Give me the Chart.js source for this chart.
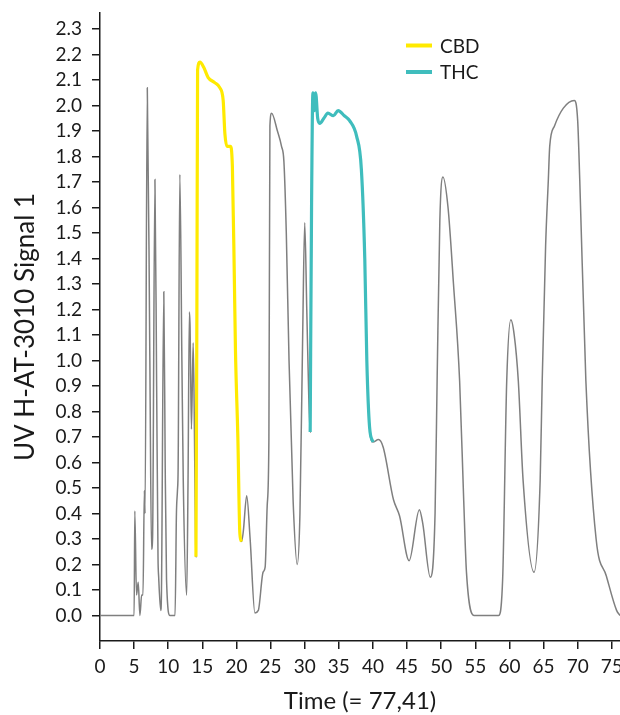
<!DOCTYPE html>
<html>
<head>
<meta charset="utf-8">
<script src="https://cdn.jsdelivr.net/npm/chart.js@4"></script>
<style>
  html, body { margin: 0; padding: 0; background: #fff; }
  #wrap { width: 620px; height: 715px; }
</style>
</head>
<body>
<div id="wrap"><canvas id="chromChart"></canvas></div>
<script>
// Signal trace (time in min, signal)
const times = [0, 5.0, 5.1, 5.35, 5.6, 5.85, 6.1, 6.3, 6.5, 6.6, 6.93, 7.3, 7.55, 7.7, 8.05, 8.3, 8.5, 8.6, 8.9, 9.0,
  9.35, 9.55, 9.75, 10.25, 11.0, 11.2, 11.35, 11.45, 11.7, 12.0, 12.2, 12.7, 12.9, 13.1, 13.2, 13.4, 13.65, 13.8, 14.0,
  14.06, 14.2, 14.3, 14.65, 15.2, 15.85, 16.8, 17.55, 18.05, 18.3, 18.6, 19.1, 19.4, 19.7, 19.85, 20.2, 20.5, 20.75,
  21.0, 21.5, 22.0, 22.7, 23.2, 23.9, 24.2, 24.5, 24.75, 24.9, 25.15, 26.0, 26.6, 26.95, 27.3, 27.7, 28.3, 28.9, 29.3,
  29.7, 30.0, 30.3, 30.6, 30.8, 31.0, 31.2, 31.4, 31.6, 31.9, 32.2, 32.8, 33.4, 34.2, 34.9, 35.8, 36.6, 37.6, 38.3,
  38.8, 39.1, 39.5, 40.0, 40.8, 41.5, 43.0, 43.9, 45.3, 46.8, 47.3, 48.4, 49.1, 49.4, 49.8, 50.25, 51.0, 51.8, 52.7,
  53.3, 53.7, 54.8, 58.4, 59.0, 59.6, 60.2, 60.7, 61.3, 62.0, 63.6, 64.5, 64.8, 65.3, 65.7, 65.9, 66.6, 67.9, 69.5,
  70.0, 70.3, 71.2, 72.7, 74.2, 75.7, 76.2];
const signal = [0, 0, 0.41, 0.08, 0.13, 0.0, 0.08, 0.08, 0.49, 0.40, 2.07, 1.02, 0.26, 0.30, 1.71, 0.90, 0.23, 0.15, 0.02, 0.08,
  1.27, 0.60, 0.14, 0, 0, 0.40, 0.49, 0.58, 1.73, 1.00, 0.53, 0.08, 0.53, 1.19, 1.13, 0.73, 1.07, 0.82, 0.30,
  0.23, 1.20, 2.14, 2.17, 2.15, 2.11, 2.09, 2.07, 2.02, 1.89, 1.84, 1.84, 1.76, 1.30, 1.04, 0.70, 0.32, 0.29,
  0.33, 0.47, 0.30, 0.01, 0.02, 0.17, 0.19, 0.43, 0.69, 1.92, 1.97, 1.90, 1.84, 1.78, 1.50, 1.00, 0.45, 0.20, 0.40,
  1.10, 1.54, 1.20, 0.85, 0.72, 1.60, 2.05, 1.98, 2.05, 1.95, 1.93, 1.95, 1.97, 1.96, 1.98, 1.96, 1.94, 1.88, 1.75,
  1.40, 1.00, 0.74, 0.68, 0.69, 0.66, 0.455, 0.39, 0.215, 0.415, 0.36, 0.15, 0.40, 0.92, 1.55, 1.72, 1.60, 1.30, 0.92,
  0.45, 0.17, 0.0, 0.0, 0.14, 0.92, 1.16, 1.10, 0.92, 0.53, 0.17, 0.53, 0.92, 1.45, 1.71, 1.84, 1.92, 1.99, 2.02,
  1.94, 1.71, 0.92, 0.30, 0.155, 0.02, 0.0];

// Peak windows (start, end time)
const cbdWindow = [14.06, 20.75];
const thcWindow = [30.8, 40.0];

const xTicks = [0, 5, 10, 15, 20, 25, 30, 35, 40, 45, 50, 55, 60, 65, 70, 75];
const yTicks = [0.0, 0.1, 0.2, 0.3, 0.4, 0.5, 0.6, 0.7, 0.8, 0.9, 1.0, 1.1, 1.2, 1.3, 1.4, 1.5, 1.6, 1.7, 1.8, 1.9, 2.0, 2.1, 2.2, 2.3];

const allPoints = times.map((t, i) => ({ x: t, y: signal[i] }));
const inWindow = (w) => allPoints.filter(p => p.x >= w[0] && p.x <= w[1]);

const FONT = 'Lato, "Noto Sans", sans-serif';
const INK = '#1a1a1a';

// simple legend drawn inside the plot
const innerLegend = {
  id: 'innerLegend',
  afterDatasetsDraw(chart) {
    const ctx = chart.ctx;
    const items = chart.data.datasets.filter(d => d.showInLegend);
    ctx.save();
    ctx.font = '19px ' + FONT;
    ctx.textBaseline = 'middle';
    items.forEach((d, i) => {
      const y = 45.5 + i * 26.5;
      ctx.strokeStyle = d.borderColor;
      ctx.lineWidth = 4;
      ctx.beginPath();
      ctx.moveTo(406, y);
      ctx.lineTo(432, y);
      ctx.stroke();
      ctx.fillStyle = INK;
      ctx.fillText(d.label, 440, y + 1);
    });
    ctx.restore();
  }
};

const ctx = document.getElementById('chromChart').getContext('2d');
new Chart(ctx, {
  type: 'line',
  data: {
    datasets: [
      {
        label: 'CBD',
        showInLegend: true,
        data: inWindow(cbdWindow),
        borderColor: '#FFEA00',
        borderWidth: 3.2,
        pointRadius: 0,
        cubicInterpolationMode: 'monotone'
      },
      {
        label: 'THC',
        showInLegend: true,
        data: inWindow(thcWindow),
        borderColor: '#3FBDBD',
        borderWidth: 3.2,
        pointRadius: 0,
        cubicInterpolationMode: 'monotone'
      },
      {
        label: 'Signal',
        data: allPoints,
        borderColor: '#7f7f7f',
        borderWidth: 1.5,
        pointRadius: 0,
        cubicInterpolationMode: 'monotone'
      }
    ]
  },
  options: {
    responsive: true,
    maintainAspectRatio: false,
    animation: false,
    layout: { padding: { top: 13, right: 0, left: 0, bottom: 0 } },
    plugins: {
      legend: { display: false },
      tooltip: { enabled: false }
    },
    scales: {
      x: {
        type: 'linear',
        min: 0,
        max: 76.2,
        afterBuildTicks: (s) => { s.ticks = xTicks.map(v => ({ value: v })); },
        afterFit: (s) => { s.height = 74; s.paddingLeft = 0; s.paddingRight = 0; },
        border: { display: true, color: INK, width: 1.5 },
        grid: { drawOnChartArea: false, drawTicks: true, tickLength: 8, color: INK, lineWidth: 1.5 },
        ticks: { color: INK, font: { family: FONT, size: 19 }, padding: 6, maxRotation: 0, autoSkip: false },
        title: { display: true, text: 'Time (= 77,41)', color: INK, font: { family: FONT, size: 24 }, padding: { top: 0, bottom: -1 } }
      },
      y: {
        type: 'linear',
        min: -0.1,
        max: 2.363,
        afterBuildTicks: (s) => { s.ticks = yTicks.map(v => ({ value: v })); },
        afterFit: (s) => { s.width = 100; s.paddingTop = 0; s.paddingBottom = 0; },
        border: { display: true, color: INK, width: 1.5 },
        grid: { drawOnChartArea: false, drawTicks: true, tickLength: 8, color: INK, lineWidth: 1.5 },
        ticks: {
          color: INK, font: { family: FONT, size: 19 }, padding: 10, autoSkip: false,
          callback: (v) => Number(v).toFixed(1)
        },
        title: { display: true, text: 'UV H-AT-3010 Signal 1', color: INK, font: { family: FONT, size: 26 }, padding: { top: 10, bottom: 0 } }
      }
    }
  },
  plugins: [innerLegend]
});
</script>
</body>
</html>
